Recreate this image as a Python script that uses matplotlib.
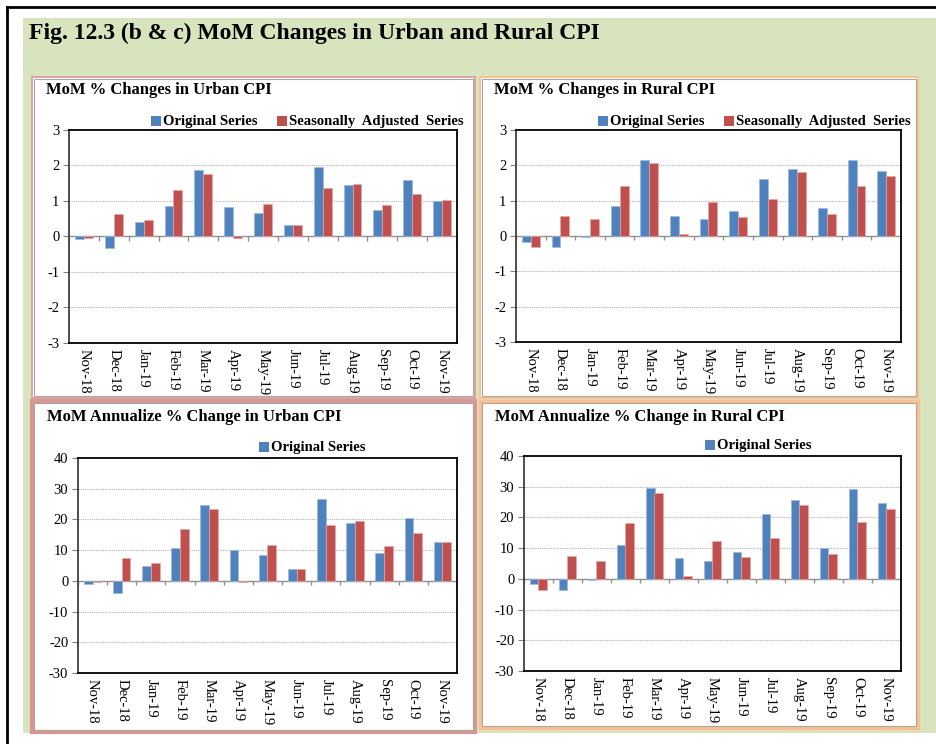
import numpy as np
import matplotlib
matplotlib.use("Agg")
import matplotlib.pyplot as plt
from matplotlib.patches import Rectangle
from matplotlib.lines import Line2D

plt.rcParams['font.family'] = ['Liberation Serif', 'DejaVu Serif']

months = ['Nov-18', 'Dec-18', 'Jan-19', 'Feb-19', 'Mar-19', 'Apr-19', 'May-19',
          'Jun-19', 'Jul-19', 'Aug-19', 'Sep-19', 'Oct-19', 'Nov-19']

# MoM % change
urban_orig = [-0.08, -0.33, 0.41, 0.86, 1.87, 0.83, 0.67, 0.31, 1.97, 1.44, 0.74, 1.58, 0.99]
urban_sa = [-0.03, 0.63, 0.47, 1.31, 1.76, -0.03, 0.92, 0.31, 1.38, 1.48, 0.89, 1.19, 1.02]
rural_orig = [-0.17, -0.30, -0.04, 0.86, 2.15, 0.57, 0.47, 0.70, 1.60, 1.90, 0.79, 2.15, 1.83]
rural_sa = [-0.31, 0.57, 0.47, 1.42, 2.06, 0.05, 0.96, 0.54, 1.06, 1.80, 0.63, 1.42, 1.71]

# MoM annualized % change
urban_ann_orig = [-0.9, -3.9, 5.0, 10.6, 24.8, 10.2, 8.3, 3.8, 26.7, 18.8, 9.1, 20.6, 12.5]
urban_ann_sa = [-0.5, 7.6, 5.7, 17.0, 23.3, -0.5, 11.8, 3.8, 18.1, 19.6, 11.4, 15.5, 12.8]
rural_ann_orig = [-1.8, -3.5, -0.5, 11.0, 29.7, 6.8, 5.8, 8.7, 21.1, 25.7, 9.9, 29.3, 24.8]
rural_ann_sa = [-3.5, 7.3, 5.8, 18.2, 27.8, 0.9, 12.2, 7.0, 13.3, 24.0, 8.0, 18.5, 22.9]

BLUE = '#4F81BD'
RED = '#C0504D'
W, H = 937, 744

fig = plt.figure(figsize=(9.37, 7.44), dpi=100)


def fx(px):
    return px / W


def fy(py):
    return 1 - py / H


def frect(x0, y0, x1, y1, **kw):
    # rectangle given in pixel coords (top-left origin)
    r = Rectangle((fx(x0), fy(y1)), fx(x1 - x0), (y1 - y0) / H,
                  transform=fig.transFigure, **kw)
    fig.patches.append(r)
    return r


# background frame
fig.add_artist(Line2D([fx(7), fx(7)], [fy(7), 0], color='black', lw=2))
fig.add_artist(Line2D([fx(7), 1], [fy(7), fy(7)], color='black', lw=2))
frect(23, 18, 937, 733, facecolor='#D7E4BD', edgecolor='none', zorder=0)

fig.text(fx(29), fy(33), 'Fig. 12.3 (b & c) MoM Changes in Urban and Rural CPI',
         fontsize=17, fontweight='bold', va='center', ha='left')

# panel boxes: (x0, y0, x1, y1, outer colour, outer width)
panels = [
    (32, 77, 475, 398, '#D99694', 1.2),
    (480, 77, 918, 398, '#FAC090', 1.5),
    (32, 401, 475, 732, '#D99694', 3),
    (480, 401, 918, 728, '#FAC090', 2.5),
]
for x0, y0, x1, y1, col, lw in panels:
    frect(x0, y0, x1, y1, facecolor='white', edgecolor=col, lw=lw, zorder=1)
    frect(x0 + 2, y0 + 2, x1 - 2, y1 - 2, facecolor='none', edgecolor='#A6A6A6', lw=0.8, zorder=1)

charts = [
    ('MoM % Changes in Urban CPI', urban_orig, urban_sa, (69, 130, 457, 343),
     (-3, 3, 1), (46, 90), True, 151),
    ('MoM % Changes in Rural CPI', rural_orig, rural_sa, (516, 130, 901, 342),
     (-3, 3, 1), (494, 90), True, 598),
    ('MoM Annualize % Change in Urban CPI', urban_ann_orig, urban_ann_sa, (78, 458, 457, 673),
     (-30, 40, 10), (47, 417), False, 259),
    ('MoM Annualize % Change in Rural CPI', rural_ann_orig, rural_ann_sa, (524, 456, 901, 671),
     (-30, 40, 10), (495, 417), False, 705),
]

x = np.arange(len(months))
bw = 0.3
for title, orig, sa, (ax0, ay0, ax1, ay1), (ymin, ymax, step), (tx, ty), both, lx in charts:
    ax = fig.add_axes([fx(ax0), fy(ay1), fx(ax1 - ax0), (ay1 - ay0) / H])
    ax.set_zorder(2)
    ax.bar(x - bw / 2, orig, bw, color=BLUE, edgecolor='#9DB9DD', lw=0.5, zorder=3)
    ax.bar(x + bw / 2, sa, bw, color=RED, edgecolor='#E3A9A8', lw=0.5, zorder=3)
    ax.set_ylim(ymin, ymax)
    ax.set_xlim(-0.5, len(months) - 0.5)
    ticks = np.arange(ymin, ymax + step, step)
    ax.set_yticks(ticks)
    ax.set_yticklabels([str(t) for t in ticks], fontsize=10.5)
    ax.set_xticks(x)
    ax.set_xticklabels(months, rotation=270, fontsize=10.5)
    ax.tick_params(axis='x', length=0, pad=4)
    ax.tick_params(axis='y', length=4, width=0.8, color='#808080', pad=3)
    for t in ticks[1:-1]:
        if t != 0:
            ax.axhline(t, color='#B0B0B0', lw=0.8, ls=(0, (1, 1)), zorder=1)
    ax.axhline(0, color='#909090', lw=1.0, zorder=2)
    tl = 0.02 * (ymax - ymin)
    ax.vlines(np.arange(len(months) + 1) - 0.5, -tl, 0, color='#909090', lw=1.0, zorder=2)
    for s in ax.spines.values():
        s.set_color('black')
        s.set_linewidth(1.3)
    ax.spines['left'].set_color('#404040')

    fig.text(fx(tx), fy(ty), title, fontsize=12, fontweight='bold', va='center', ha='left', zorder=5)

    ly = ay0 - (9 if both else 11)
    frect(lx, ly - 5, lx + 10, ly + 5, facecolor=BLUE, edgecolor='none', zorder=5)
    fig.text(fx(lx + 12), fy(ly), 'Original Series', fontsize=10.5, fontweight='bold',
             va='center', ha='left', zorder=5)
    if both:
        rx = lx + 126
        frect(rx, ly - 5, rx + 10, ly + 5, facecolor=RED, edgecolor='none', zorder=5)
        fig.text(fx(rx + 12), fy(ly), 'Seasonally  Adjusted  Series', fontsize=10.5,
                 fontweight='bold', va='center', ha='left', zorder=5)

fig.savefig('out.png', dpi=100)
